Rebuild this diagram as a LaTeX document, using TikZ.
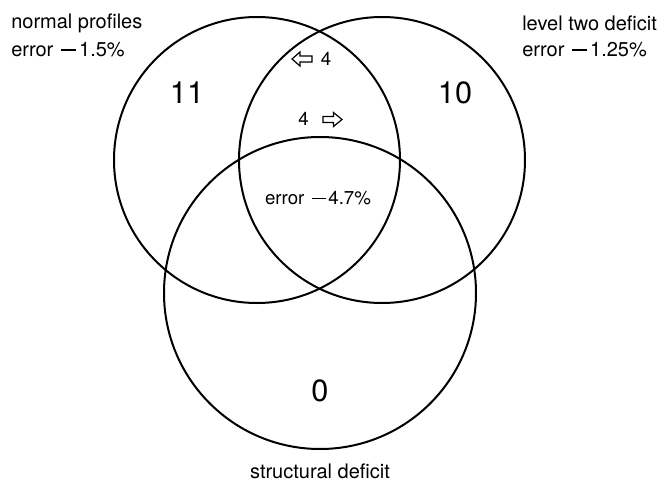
\documentclass[tikz,border=0pt]{standalone}
\usepackage{fontspec}
\setmainfont{TeX Gyre Heros}
\newcommand\mydash{\hspace{0.12em}\rule[0.31em]{0.75em}{0.06em}\hspace{0.14em}}
\begin{document}
\begin{tikzpicture}[x=0.75pt,y=-0.75pt,
  venn/.style={circle,draw=black,line width=1.5pt,inner sep=0pt},
  lbl/.style={font=\fontsize{15pt}{18pt}\selectfont,inner sep=0pt},
  big/.style={font=\fontsize{23pt}{26pt}\selectfont,inner sep=0pt},
  small/.style={font=\fontsize{14pt}{17pt}\selectfont,inner sep=0pt},
  warrow/.style={draw=black,line width=0.9pt,line join=miter,fill=white}]
\useasboundingbox (0,0) rectangle (661,482);
\node[venn,minimum size=214.5pt] (L) at (257,160) {};
\node[venn,minimum size=214.5pt] (R) at (382,160) {};
\node[venn,minimum size=234pt] (B) at (320,293) {};
\node[lbl,anchor=west] (nl1) at (11,23) {normal profiles};
\node[lbl,anchor=west] (nl2) at (11,50) {error \mydash 1.5\%};
\node[lbl,anchor=west] (rl1) at (522,23) {level two deficit};
\node[lbl,anchor=west] (rl2) at (522,50) {error \mydash 1.25\%};
\node[lbl] (bl) at (320,471) {structural deficit};
\node[big] (n11) at (187,93) {11};
\node[big] (n10) at (455,93) {10};
\node[big] (n0) at (320,391) {0};
% left-pointing outline arrow
\coordinate (al) at (302,59);
\draw[warrow,shift={(al)}] (-10,0) -- (-2,-7) -- (-2,-3) -- (10,-3) -- (10,3) -- (-2,3) -- (-2,7) -- cycle;
\node[small] (a1) at (326,59) {4};
% right-pointing outline arrow
\coordinate (ar) at (332.5,119.5);
\draw[warrow,shift={(ar)}] (9.5,0) -- (1,-7) -- (1,-3) -- (-9.5,-3) -- (-9.5,3) -- (1,3) -- (1,7) -- cycle;
\node[small] (a2) at (303.5,119) {4};
\node[small] (ec) at (318,198) {error \mydash 4.7\%};
\end{tikzpicture}
\end{document}
